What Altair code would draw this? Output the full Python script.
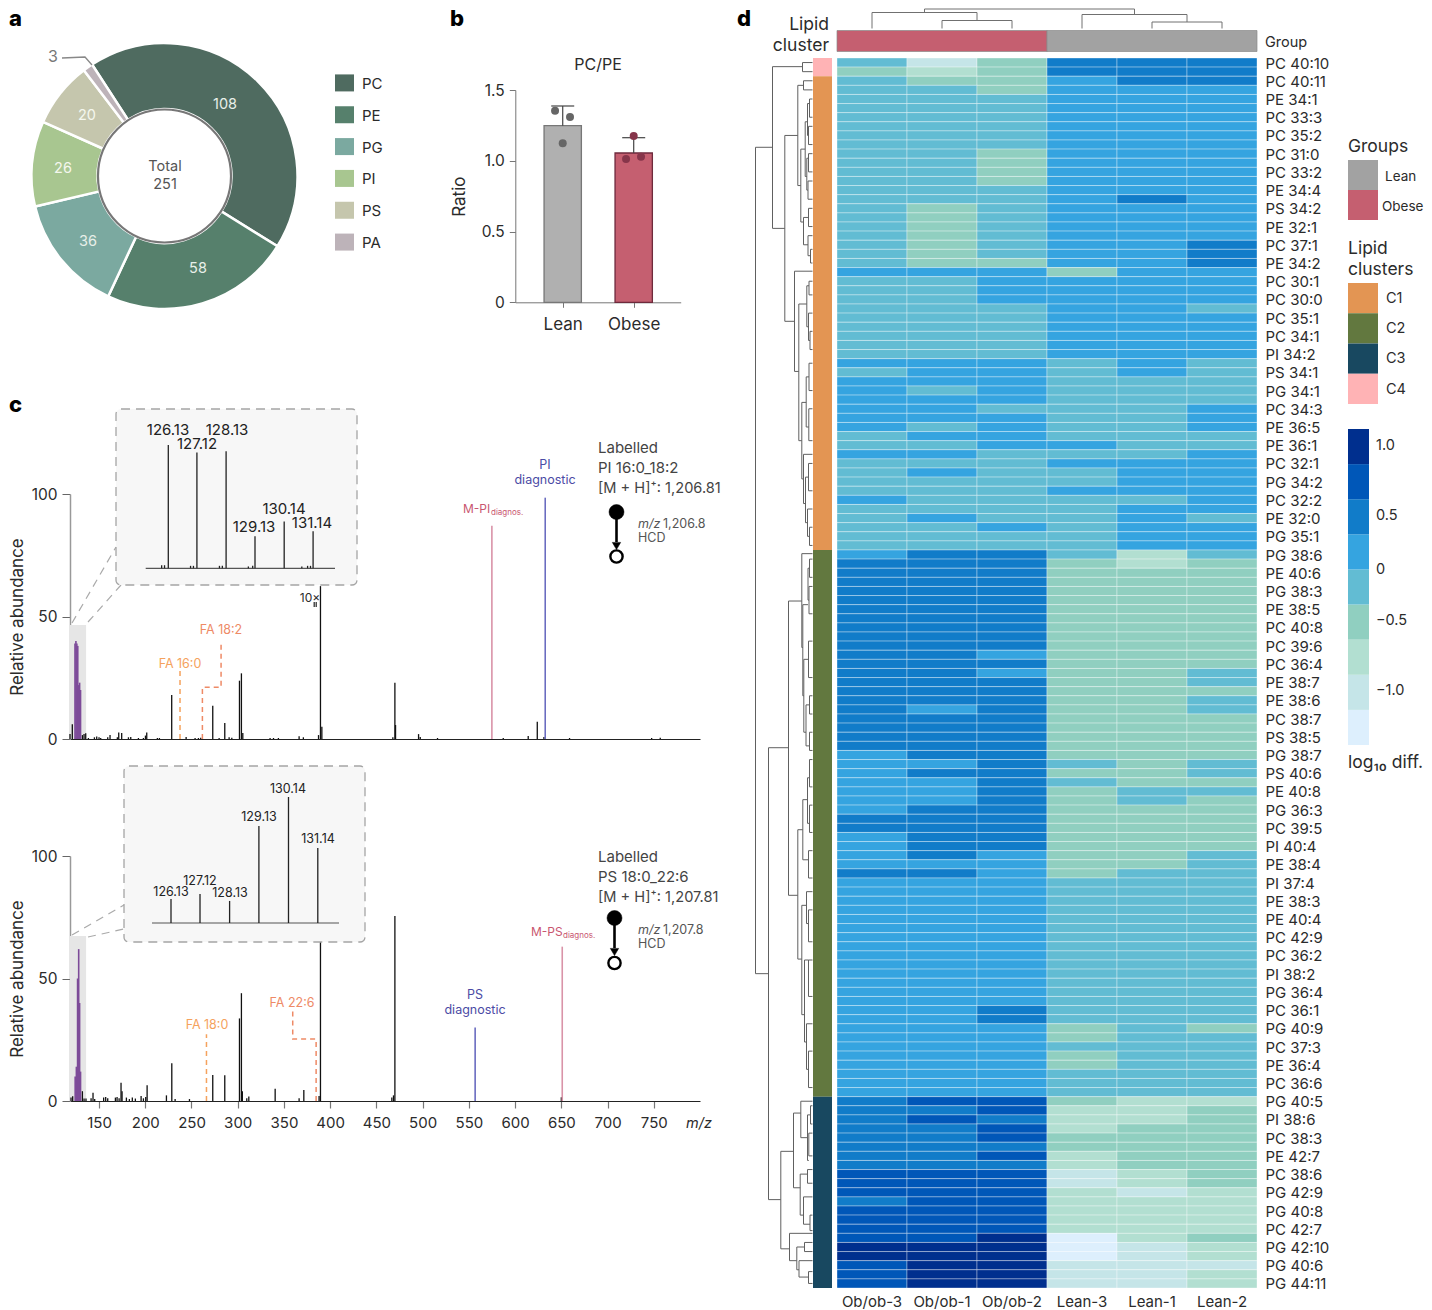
import altair as alt
import pandas as pd

FONT = "Inter"
W, H = 1416, 1302
OX, OY = 8, 8  # page margin

# ---------- panel a ----------
lipid_types = ["PC", "PE", "PG", "PI", "PS", "PA"]
lipid_counts = [108, 58, 36, 26, 20, 3]
lipid_colors = ["#4f6b60", "#56806c", "#7ba9a0", "#a8c690", "#c5c6ad", "#bdb3b9"]

# ---------- panel b ----------
bar_groups = ["Lean", "Obese"]
bar_values = [1.248, 1.055]
bar_err_top = [1.387, 1.163]
bar_fill = ["#b0b0b0", "#c55f70"]
bar_line = ["#777777", "#6e2a3c"]
pts_group_pos = [-0.108, 0.103, 0.0, 0.0, 0.103, -0.108]
pts_group = [0, 0, 0, 1, 1, 1]
pts_value = [1.354, 1.309, 1.123, 1.175, 1.029, 1.012]
pts_color = ["#666666", "#666666", "#666666", "#86354a", "#86354a", "#86354a"]

# ---------- panel c spectra ----------
c1_mz = [118.6, 121.1, 132, 133.8, 135.6, 138.5, 145, 147.5, 150, 151.8, 159.4, 161.9, 169.8, 171.3, 174.5, 181.8, 184.3,
         192.6, 198, 200.2, 201.6, 213.1, 215.3, 228.6, 244.2, 253.9, 257.5, 260, 273, 279.9, 286, 290.7, 293.6, 301.9,
         304, 305.5, 335, 338.7, 344, 366.4, 371, 387.4, 389.5, 391, 467.8, 470, 470.7, 495.6, 497.4, 516.1, 587.2,
         614.2, 624, 631.2, 658.9, 747.7, 757]
c1_int = [2, 6, 1.6, 2, 2.3, 0.4, 0.7, 1, 0.7, 0.4, 0.7, 1.6, 0.7, 2.7, 2.4, 0.7, 0.8,
          0.4, 0.4, 1.4, 2.7, 0.4, 0.4, 18, 0.8, 0.4, 0.4, 0.5, 13.6, 0.4, 6.5, 0.7, 0.5, 23.8,
          26.8, 2.5, 0.4, 0.4, 0.4, 1.1, 0.7, 1.6, 62.4, 5, 0.7, 23, 5.7, 2, 0.8, 0.4, 0.4,
          1.2, 7, 0.8, 0.4, 0.4, 0.5]
c1_purple_mz = [124, 125, 126, 127, 128, 129, 130]
c1_purple_int = [39, 40, 39, 38, 22, 23, 20]
c2_mz = [119.7, 121.5, 132, 133.8, 135.9, 141.4, 143.5, 145.3, 155, 157.2, 159.4, 167.7, 169.5, 171.7, 173.8, 174.9,
         179.6, 182.8, 186, 189.3, 195.5, 198, 200.5, 202, 222.9, 228.7, 232.3, 247.8, 273, 286, 301.9, 304, 305,
         309.8, 312, 340.5, 366.4, 371.5, 388, 389.5, 466.7, 468.5, 470, 650]
c2_int = [1.4, 1.9, 4, 1, 1, 1.1, 3.4, 0.8, 1.4, 1.6, 1.1, 1.4, 1.6, 1.1, 7.5, 4,
          1.4, 0.8, 1.4, 1, 2, 1.1, 1.6, 6.4, 2.3, 15.4, 0.8, 0.8, 10.6, 10.5, 33.7, 44, 4,
          1.1, 1.8, 5, 1.1, 4.5, 2, 66, 1.4, 2.3, 75.5, 1.5]
c2_purple_mz = [124.2, 125.5, 126.8, 128, 129, 130]
c2_purple_int = [10, 14, 50, 62, 40, 12]
c1_diag = [(574.9, 87, "#d993a8"), (632.6, 98.5, "#6a6cc0")]
c2_diag = [(556.8, 30, "#6a6cc0"), (651, 63, "#d993a8")]
c1_fa_16_x = [237.6, 237.6]
c1_fa_16_y = [0, 28]
c1_fa_18_x = [261.8, 261.8, 282, 282]
c1_fa_18_y = [0, 21.1, 21.1, 39.3]
c2_fa_18_x = [266.2, 266.2]
c2_fa_18_y = [0, 27.2]
c2_fa_22_x = [384.8, 384.8, 359.5, 359.5]
c2_fa_22_y = [0, 25.3, 25.3, 37.4]
inset1_mz = [126.13, 127.12, 128.13, 129.13, 130.14, 131.14]
inset1_int = [100, 94, 95, 26, 38, 30]
inset1_small_mz = [125.9, 126.0, 126.9, 127.0, 127.9, 128.0, 128.9, 129.05, 130.75, 130.95, 131.05]
inset1_small_int = [2.5, 2.5, 2, 2, 2, 2, 1.5, 2, 1.5, 2, 2]
inset2_mz = [126.13, 127.12, 128.13, 129.13, 130.14, 131.14]
inset2_int = [19, 23, 17.5, 77, 100, 59.5]

# ---------- panel d heat map ----------
samples = ["Ob/ob-3", "Ob/ob-1", "Ob/ob-2", "Lean-3", "Lean-1", "Lean-2"]
row_labels = ["PC 40:10", "PC 40:11", "PE 34:1", "PC 33:3", "PC 35:2", "PC 31:0", "PC 33:2", "PE 34:4", "PS 34:2", "PE 32:1",
              "PC 37:1", "PE 34:2", "PC 30:1", "PC 30:0", "PC 35:1", "PC 34:1", "PI 34:2", "PS 34:1", "PG 34:1", "PC 34:3",
              "PE 36:5", "PE 36:1", "PC 32:1", "PG 34:2", "PC 32:2", "PE 32:0", "PG 35:1", "PG 38:6", "PE 40:6", "PG 38:3",
              "PE 38:5", "PC 40:8", "PC 39:6", "PC 36:4", "PE 38:7", "PE 38:6", "PC 38:7", "PS 38:5", "PG 38:7", "PS 40:6",
              "PE 40:8", "PG 36:3", "PC 39:5", "PI 40:4", "PE 38:4", "PI 37:4", "PE 38:3", "PE 40:4", "PC 42:9", "PC 36:2",
              "PI 38:2", "PG 36:4", "PC 36:1", "PG 40:9", "PC 37:3", "PE 36:4", "PC 36:6", "PG 40:5", "PI 38:6", "PC 38:3",
              "PE 42:7", "PC 38:6", "PG 42:9", "PG 40:8", "PC 42:7", "PG 42:10", "PG 40:6", "PG 44:11"]
# one string per heat-map row, one digit per sample: colour class 1 (palest) .. 9 (darkest)
heat_rows = """524777 434777 544677 554666 555666 555666 555666 555666 555666 555666
554666 554666 554666 554666 555666 555676 545666 545666 545666 545666
545667 545667 544667 666466 556666 556666 556666 555665 555666 555666
555666 555666 555666 666565 566565 666555 656555 666555 665556 666556
656556 566555 556655 665556 555666 565566 555566 555666 655556 555566
565565 556566 555566 555566 677535 777434 777444 777444 777444 777444
777444 777444 777444 777444 777444 776444 777444 776445 777445 777444
777445 767445 777444 777444 777444 777444 677444 667545 677445 667544
667455 667454 677444 777444 777444 677444 677444 676445 666445 776455
666555 666555 666555 666555 666555 666555 666555 666555 666555 666555
666555 666555 666555 666555 667555 667555 666454 666455 666555 666455
666455 666555 666555 666555 788433 778334 787334 778344 778444 777444
778344 777344 888234 888234 888323 788333 888333 888333 888333 889134
999123 999123 899222 899223 899223""".split()
heat_palette = ["#ddeffd", "#c5e5e8", "#b2dfd1", "#90cfc0", "#62bcd3", "#35a4e0", "#117cc9", "#0057b8", "#002f8e"]
cluster_names = ["C4", "C1", "C2", "C3"]
cluster_start = [0, 2, 54, 114]
cluster_end = [2, 54, 114, 135]
cluster_colors = ["#ffb3b5", "#e39553", "#62783f", "#184860"]
# dendrogram brackets: parent distance, top row, top child distance, bottom row, bottom child distance
row_tree = [
    (57, 9.8, 40, 100.5, 44), (40, .95, 10, 18.7, 27.7), (10, .5, 0, 1.5, 0), (27.7, 8.5, 14.7, 28.9, 18),
    (14.7, 3, 9, 14, 11.7), (9, 2.5, 0, 3.5, 0), (11.7, 10, 7.3, 18, 9), (7.3, 7, 5, 13, 5.7), (5, 5, 3, 8.5, 4),
    (3, 4.5, 0, 6.5, 0), (4, 7.5, 0, 9.5, 0), (5.7, 11, 4, 14.5, 4.5), (4, 10.5, 0, 12.5, 0), (4.5, 13.5, 0, 15.5, 0),
    (9, 17.5, 4, 20.5, 4.5), (4, 16.5, 0, 18.5, 0), (4.5, 19.5, 0, 21.7, 2), (2, 21, 0, 22.5, 0),
    (18, 23.4, 0, 34.4, 13.7), (13.7, 27, 5.7, 42, 10.7), (5.7, 25, 3.5, 29.5, 4), (3.5, 24.5, 0, 26, 0),
    (4, 28, 0, 31, 2.5), (2.5, 30, 0, 32, 0), (10.7, 37.8, 6.3, 46.2, 9), (6.3, 35, 3.5, 40.5, 3.7),
    (3.5, 33.5, 0, 36.5, 0), (3.7, 38.5, 0, 42, 0), (9, 43.5, 0, 48.9, 7), (7, 46, 4, 51, 5), (4, 44.5, 0, 47.5, 0),
    (5, 49.5, 0, 52.5, 3), (3, 51.5, 0, 53.5, 0),
    (44, 75.7, 24, 125.3, 31.7), (24, 59.6, 10.7, 91.9, 14.7), (10.7, 54.4, 0, 64.7, 9.7), (9.7, 60, 4.5, 70, 8.7),
    (4.5, 56, 3, 59.5, 3.5), (3, 55, 0, 57, 0), (3.5, 58, 0, 61, 0), (8.7, 66, 4, 74, 6.5), (4, 64, 0, 68, 0),
    (6.5, 71, 3, 75.5, 3), (3, 70, 0, 72, 0), (3, 74, 0, 76, 0), (14.7, 84.7, 9.7, 98.9, 10.7), (9.7, 81.4, 5, 88, 4),
    (5, 79, 3, 84, 3), (3, 77, 0, 80, 0), (3, 82, 0, 85, 0), (4, 87, 0, 90, 0), (10.7, 93, 6, 105, 8),
    (6, 91.5, 0, 95, 4), (4, 93.5, 0, 97, 0), (8, 99, 4, 108, 6), (4, 99, 0, 103, 0), (6, 106, 0, 111, 4), (4, 109, 0, 113, 0),
    (31.7, 120, 19, 130.7, 23), (19, 115.8, 11.7, 124, 12.3), (11.7, 114.5, 0, 118.5, 5), (5, 116, 2, 121, 3.7),
    (2, 115, 0, 117, 0), (3.7, 118, 0, 120.5, 0), (12.3, 122.5, 5, 127, 9), (5, 122, 0, 123.5, 0), (9, 125, 0, 128, 2.5),
    (2.5, 127, 0, 128.7, 0), (23, 129, 0, 132, 15.7), (15.7, 130.5, 8, 133, 13.5), (8, 130, 0, 131, 0),
    (13.5, 132, 0, 133.8, 4), (4, 133.2, 0, 134.5, 0),
]
# sample tree: parent height, left col, left child height, right col, right child height
col_tree = [(19.5, 1.25, 16, 4.25, 14), (16, 0.5, 0, 2, 8), (8, 1.5, 0, 2.5, 0), (14, 3.5, 0, 5, 6.5), (6.5, 4.5, 0, 5.5, 0)]

# ---------- text ----------
TXT = "#2b2b2b"
ORANGE, SALMON, PINK, BLUE = "#f5a25d", "#ee8a66", "#c9566f", "#4b4ba5"
left_text = [
    ("PC", 362, 83, 15, TXT), ("PE", 362, 115, 15, TXT), ("PG", 362, 147, 15, TXT), ("PI", 362, 178, 15, TXT),
    ("PS", 362, 210, 15, TXT), ("PA", 362, 242, 15, TXT),
    ("Labelled", 598, 447, 15, "#444444"), ("PI 16:0_18:2", 598, 467, 15, "#444444"), ("[M + H]⁺: 1,206.81", 598, 488, 14.6, "#444444"),
    ("1,206.8", 663, 523, 12.5, "#555555"), ("HCD", 638, 537, 12.5, "#555555"),
    ("Labelled", 598, 856, 15, "#444444"), ("PS 18:0_22:6", 598, 876, 15, "#444444"), ("[M + H]⁺: 1,207.81", 598, 897, 14.6, "#444444"),
    ("1,207.8", 663, 929, 12.5, "#555555"), ("HCD", 638, 943, 12.5, "#555555"),
    ("M-PI", 463, 508, 12, PINK), ("diagnos.", 491, 512, 8, PINK), ("M-PS", 531, 931, 12, PINK), ("diagnos.", 563, 935, 8, PINK),
    ("Group", 1265, 42, 14.5, TXT), ("Groups", 1348, 146, 17.5, TXT), ("Lean", 1385, 176, 13.5, TXT), ("Obese", 1382, 206, 13.5, TXT),
    ("Lipid", 1348, 248, 17.5, TXT), ("clusters", 1348, 269, 17.5, TXT),
    ("C1", 1386, 298, 14.5, TXT), ("C2", 1386, 328, 14.5, TXT), ("C3", 1386, 358, 14.5, TXT), ("C4", 1386, 389, 14.5, TXT),
    ("1.0", 1376, 445, 14.5, TXT), ("0.5", 1376, 515, 14.5, TXT), ("0", 1376, 569, 14.5, TXT), ("−0.5", 1376, 620, 14.5, TXT), ("−1.0", 1376, 690, 14.5, TXT),
    ("log₁₀ diff.", 1348, 762, 17.5, TXT),
]
center_text = [
    ("108", 225, 104, 14.5, "#e8efe9"), ("58", 198, 268, 14.5, "#e8efe9"), ("36", 88, 241, 14.5, "#e8efe9"), ("26", 63, 168, 14.5, "#f4f7ee"),
    ("20", 87, 115, 14.5, "#f4f7ee"), ("3", 53, 56, 16, "#777777"), ("Total", 165, 166, 14.5, "#555555"), ("251", 165, 184, 14.5, "#555555"),
    ("PC/PE", 598, 64, 16, TXT),
    ("FA 18:2", 221, 629, 12.5, SALMON), ("FA 16:0", 180, 663, 12.5, ORANGE), ("PI", 545, 464, 12.5, BLUE), ("diagnostic", 545, 479, 12.5, BLUE),
    ("FA 18:0", 207, 1024, 12.5, ORANGE), ("FA 22:6", 292, 1002, 12.5, SALMON), ("PS", 475, 994, 12.5, BLUE), ("diagnostic", 475, 1009, 12.5, BLUE),
    ("10×", 310, 597, 12, TXT),
    ("126.13", 168, 429, 15, "#222222"), ("127.12", 197, 443, 15, "#222222"), ("128.13", 227, 429, 15, "#222222"),
    ("129.13", 254, 526, 15, "#222222"), ("130.14", 284, 508, 15, "#222222"), ("131.14", 312, 522, 15, "#222222"),
    ("126.13", 171, 891, 12.5, "#222222"), ("127.12", 200, 880, 12.5, "#222222"), ("128.13", 230, 892, 12.5, "#222222"),
    ("129.13", 259, 816, 12.5, "#222222"), ("130.14", 288, 788, 12.5, "#222222"), ("131.14", 318, 838, 12.5, "#222222"),
]
right_text = [("Lipid", 829, 24, 17.5, TXT), ("cluster", 829, 45, 17.5, TXT)]
italic_text = [("m/z", 638, 523, 12.5, "#555555"), ("m/z", 638, 929, 12.5, "#555555"), ("m/z", 686, 1123, 14.5, TXT)]
bold_text = [("a", 9, 19, 22), ("b", 450, 19, 22), ("c", 9, 405, 22), ("d", 737, 19, 22)]


def px(v):
    return v - OX


def py(v):
    return v - OY


layers = []


def text_layer(rows, align, dy=1, **kw):
    df = pd.DataFrame([{"t": r[0], "x": px(r[1]), "y": py(r[2]) + dy, "s": r[3], "c": r[4]} for r in rows])
    return alt.Chart(df).mark_text(font=FONT, align=align, baseline="middle", **kw).encode(
        x=alt.X("x:Q", scale=None, axis=None), y=alt.Y("y:Q", scale=None, axis=None),
        text="t:N", size=alt.Size("s:Q", scale=None, legend=None), color=alt.Color("c:N", scale=None, legend=None))


def px_line(xs, ys, color, width=1.2, dash=None):
    df = pd.DataFrame({"x": [px(v) for v in xs], "y": [py(v) for v in ys], "o": list(range(len(xs)))})
    kw = {"strokeDash": dash} if dash else {}
    return alt.Chart(df).mark_line(color=color, strokeWidth=width, **kw).encode(
        x=alt.X("x:Q", scale=None, axis=None), y=alt.Y("y:Q", scale=None, axis=None), order="o:Q")


def px_point(x, y, size, fill, stroke, width, shape="circle"):
    df = pd.DataFrame({"x": [px(x)], "y": [py(y)]})
    return alt.Chart(df).mark_point(shape=shape, filled=True, fill=fill, stroke=stroke, strokeWidth=width, size=size, opacity=1).encode(
        x=alt.X("x:Q", scale=None, axis=None), y=alt.Y("y:Q", scale=None, axis=None))


# ======== panel a ========
donut = pd.DataFrame({"type": lipid_types, "n": lipid_counts, "i": range(6)})
start = 5.707
layers.append(alt.Chart(donut).mark_arc(innerRadius=67, outerRadius=133, stroke="white", strokeWidth=2.5).encode(
    theta=alt.Theta("n:Q", stack=True, scale=alt.Scale(domain=[0, 251], range=[start, start + 6.28319])),
    color=alt.Color("type:N", scale=alt.Scale(domain=lipid_types, range=lipid_colors), legend=None),
    order=alt.Order("i:Q"), x=alt.value(px(164.5)), y=alt.value(py(176))))
layers.append(px_point(164.5, 176, 17700, "white", "#777777", 2.2))
layers.append(px_line([62, 85, 92], [58, 57, 65], "#888888", 1.3))
leg_a = pd.DataFrame({"type": lipid_types})
layers.append(alt.Chart(leg_a).mark_rect(height=17).encode(
    x=alt.value(px(335)), x2=alt.value(px(354)),
    y=alt.Y("type:N", sort=lipid_types, axis=None, scale=alt.Scale(domain=lipid_types, range=[py(67), py(258)], paddingInner=0, paddingOuter=0)),
    color=alt.Color("type:N", scale=alt.Scale(domain=lipid_types, range=lipid_colors), legend=None)))

# ======== panel b ========
bx = alt.Scale(domain=[-0.668, 1.662], range=[px(515.3), px(680.7)])
by = alt.Scale(domain=[0, 1.5], range=[py(302.3), py(90)])
bdf = pd.DataFrame({"p": [0, 1], "a": [-0.263, 0.737], "b": [0.263, 1.263], "v": bar_values, "z": [0, 0], "t": bar_err_top,
                    "f": bar_fill, "l": bar_line, "c1": [-0.162, 0.838], "c2": [0.162, 1.162]})
b_xaxis = alt.Axis(orient="bottom", offset=py(302.3) - H, values=[0, 1], labelExpr="datum.value == 0 ? 'Lean' : 'Obese'", title=None,
                   domainColor="#777777", tickColor="#777777", tickSize=5, labelFontSize=17, labelPadding=9, labelColor=TXT, grid=False)
b_yaxis = alt.Axis(orient="left", offset=-px(515.3), values=[0, 0.5, 1, 1.5], labelExpr="datum.value == 0 ? '0' : format(datum.value, '.1f')",
                   title="Ratio", titleFontSize=17, titleFontWeight="normal", titleColor=TXT, titlePadding=13,
                   domainColor="#777777", tickColor="#777777", tickSize=6, labelFontSize=15.5, labelPadding=5, labelColor=TXT, grid=False)
layers.append(alt.Chart(bdf).mark_bar(strokeWidth=1.3).encode(
    x=alt.X("a:Q", scale=bx, axis=b_xaxis), x2="b:Q", y=alt.Y("v:Q", scale=by, axis=b_yaxis), y2="z:Q",
    fill=alt.Fill("f:N", scale=None, legend=None), stroke=alt.Stroke("l:N", scale=None, legend=None)))
layers.append(alt.Chart(bdf).mark_rule(color="#444444", strokeWidth=1.2).encode(
    x=alt.X("p:Q", scale=bx, axis=None), y=alt.Y("v:Q", scale=by, axis=None), y2="t:Q"))
layers.append(alt.Chart(bdf).mark_rule(color="#444444", strokeWidth=1.2).encode(
    x=alt.X("c1:Q", scale=bx, axis=None), x2="c2:Q", y=alt.Y("t:Q", scale=by, axis=None)))
ptdf = pd.DataFrame({"p": [g + o for g, o in zip(pts_group, pts_group_pos)], "v": pts_value, "c": pts_color})
layers.append(alt.Chart(ptdf).mark_circle(size=64, opacity=1).encode(
    x=alt.X("p:Q", scale=bx, axis=None), y=alt.Y("v:Q", scale=by, axis=None), color=alt.Color("c:N", scale=None, legend=None)))


# ======== panel c ========
def spectrum(mz, inten, purple_mz, purple_int, diag, base_px, shade_top, fa_lines, show_x):
    sx = alt.Scale(domain=[118.6, 800], range=[px(70), px(700)])
    sy = alt.Scale(domain=[0, 100], range=[py(base_px), py(base_px - 245)])
    out = []
    shade = pd.DataFrame({"a": [118.6], "b": [136], "y0": [0], "y1": [shade_top]})
    if show_x:
        xax = alt.Axis(orient="bottom", offset=py(base_px) - H, values=list(range(150, 751, 50)), title=None, domainColor="#222222",
                       tickColor="#777777", tickSize=7, tickWidth=1.2, labelFontSize=15, labelPadding=7, labelColor=TXT, grid=False)
    else:
        xax = alt.Axis(orient="bottom", offset=py(base_px) - H, values=[], title=None, domainColor="#222222", ticks=False, labels=False, grid=False)
    yax = alt.Axis(orient="left", offset=-px(70), values=[0, 50, 100], title="Relative abundance", titleFontSize=17, titleFontWeight="normal",
                   titleColor=TXT, titlePadding=5, domainColor="#999999", domainWidth=1.5, tickColor="#666666", tickSize=8,
                   labelFontSize=15.5, labelPadding=5, labelColor=TXT, grid=False)
    out.append(alt.Chart(shade).mark_rect(color="#e6e6e6").encode(
        x=alt.X("a:Q", scale=sx, axis=xax), x2="b:Q", y=alt.Y("y1:Q", scale=sy, axis=yax), y2="y0:Q"))
    df = pd.DataFrame({"m": mz, "i": inten, "z": 0})
    out.append(alt.Chart(df).mark_rule(color="#111111", strokeWidth=1.3).encode(
        x=alt.X("m:Q", scale=sx, axis=None), y=alt.Y("i:Q", scale=sy, axis=None), y2="z:Q"))
    dfp = pd.DataFrame({"m": purple_mz, "i": purple_int, "z": 0})
    out.append(alt.Chart(dfp).mark_rule(color="#7d4b99", strokeWidth=1.6).encode(
        x=alt.X("m:Q", scale=sx, axis=None), y=alt.Y("i:Q", scale=sy, axis=None), y2="z:Q"))
    dfd = pd.DataFrame({"m": [d[0] for d in diag], "i": [d[1] for d in diag], "c": [d[2] for d in diag], "z": 0})
    out.append(alt.Chart(dfd).mark_rule(strokeWidth=1.6).encode(
        x=alt.X("m:Q", scale=sx, axis=None), y=alt.Y("i:Q", scale=sy, axis=None), y2="z:Q",
        color=alt.Color("c:N", scale=None, legend=None)))
    for xs, ys, c in fa_lines:
        dff = pd.DataFrame({"m": xs, "i": ys, "o": range(len(xs))})
        out.append(alt.Chart(dff).mark_line(color=c, strokeWidth=1.5, strokeDash=[5, 4]).encode(
            x=alt.X("m:Q", scale=sx, axis=None), y=alt.Y("i:Q", scale=sy, axis=None), order="o:Q"))
    return out


layers += spectrum(c1_mz, c1_int, c1_purple_mz, c1_purple_int, c1_diag, 739, 46.5,
                   [(c1_fa_16_x, c1_fa_16_y, ORANGE), (c1_fa_18_x, c1_fa_18_y, SALMON)], False)
layers += spectrum(c2_mz, c2_int, c2_purple_mz, c2_purple_int, c2_diag, 1101, 67.3,
                   [(c2_fa_18_x, c2_fa_18_y, ORANGE), (c2_fa_22_x, c2_fa_22_y, SALMON)], True)
layers.append(px_line([72, 116], [623, 547], "#aaaaaa", 1.2, [8, 6]))
layers.append(px_line([88, 121], [622, 585], "#aaaaaa", 1.2, [8, 6]))
layers.append(px_line([72, 124], [935, 905], "#aaaaaa", 1.2, [8, 6]))
layers.append(px_line([88, 124], [937, 929], "#aaaaaa", 1.2, [8, 6]))
layers.append(px_line([314.2, 314.2], [602, 607], "#222222", 1.2))
layers.append(px_line([316.2, 316.2], [602, 607], "#222222", 1.2))


def inset(x0, x1, y0, y1, mz, inten, base, top, mz0, pxmz0, step, ax0, ax1, small=None):
    rect = pd.DataFrame({"a": [px(x0)], "b": [px(x1)], "c": [py(y0)], "d": [py(y1)]})
    out = [alt.Chart(rect).mark_rect(fill="#f7f7f7", stroke="#a5a5a5", strokeWidth=1.3, strokeDash=[9, 6], cornerRadius=5).encode(
        x=alt.X("a:Q", scale=None, axis=None), x2="b:Q", y=alt.Y("c:Q", scale=None, axis=None), y2="d:Q")]
    m_lo = mz0 + (ax0 - pxmz0) / step
    m_hi = mz0 + (ax1 - pxmz0) / step
    sx = alt.Scale(domain=[m_lo, m_hi], range=[px(ax0), px(ax1)])
    sy = alt.Scale(domain=[0, 100], range=[py(base), py(top)])
    axis_df = pd.DataFrame({"a": [m_lo], "b": [m_hi], "z": [0]})
    out.append(alt.Chart(axis_df).mark_rule(color="#555555", strokeWidth=1.2).encode(
        x=alt.X("a:Q", scale=sx, axis=None), x2="b:Q", y=alt.Y("z:Q", scale=sy, axis=None)))
    df = pd.DataFrame({"m": mz, "i": inten, "z": 0})
    out.append(alt.Chart(df).mark_rule(color="#222222", strokeWidth=1.3).encode(
        x=alt.X("m:Q", scale=sx, axis=None), y=alt.Y("i:Q", scale=sy, axis=None), y2="z:Q"))
    if small:
        dfs = pd.DataFrame({"m": small[0], "i": small[1], "z": 0})
        out.append(alt.Chart(dfs).mark_rule(color="#222222", strokeWidth=1.3).encode(
            x=alt.X("m:Q", scale=sx, axis=None), y=alt.Y("i:Q", scale=sy, axis=None), y2="z:Q"))
    return out


layers += inset(116, 357, 409, 585, inset1_mz, inset1_int, 568.3, 445, 126.13, 168.3, 28.9, 145.7, 335, (inset1_small_mz, inset1_small_int))
layers += inset(124, 365, 766, 942, inset2_mz, inset2_int, 923, 797, 126.13, 171, 29.3, 152, 339)

# HCD diagrams
for cx, top, tip, bot in [(616.5, 512, 546, 556.5), (614.5, 918, 952, 963)]:
    layers.append(px_line([cx, cx], [top, tip - 4], "#000000", 2.6))
    layers.append(px_point(cx, tip, 70, "#000000", "#000000", 0.5, "triangle-down"))
    layers.append(px_point(cx, top, 225, "#000000", "#000000", 0.5))
    layers.append(px_point(cx, bot, 150, "white", "#000000", 2.4))

# ======== panel d ========
row_ids = []
for r in range(135):
    if r % 2 == 0:
        row_ids.append(row_labels[r // 2])
    else:
        row_ids.append(row_labels[r // 2] + " /")
assert len(row_labels) == 68 and len(heat_rows) == 135
cells = []
for r, code in enumerate(heat_rows):
    for c, s in enumerate(samples):
        cells.append({"row": row_ids[r], "sample": s, "level": int(code[c])})
hdf = pd.DataFrame(cells)
levels = list(range(1, 10))
heat_x_ax = alt.Axis(orient="bottom", offset=py(1288) - H, title=None, domain=False, ticks=False, labelAngle=0, labelFontSize=15,
                     labelPadding=6, labelColor=TXT, grid=False)
heat_y_ax = alt.Axis(orient="right", offset=px(1257) - W, values=row_ids[::2], title=None, domain=False, ticks=False, labelFontSize=15,
                     labelPadding=8, labelOffset=1, labelColor=TXT, labelOverlap=False, grid=False, labelBound=False, labelAlign="left")
layers.append(alt.Chart(hdf).mark_rect(stroke="white", strokeWidth=0.5, strokeOpacity=0.7).encode(
    x=alt.X("sample:N", sort=samples, axis=heat_x_ax,
            scale=alt.Scale(domain=samples, range=[px(837), px(1257)], paddingInner=0, paddingOuter=0)),
    y=alt.Y("row:N", sort=row_ids, axis=heat_y_ax,
            scale=alt.Scale(domain=row_ids, range=[py(58), py(1288)], paddingInner=0, paddingOuter=0)),
    color=alt.Color("level:O", scale=alt.Scale(domain=levels, range=heat_palette), legend=None)))

# group bar
grp = pd.DataFrame({"a": [0, 3], "b": [3, 6], "c": ["#c55f70", "#a2a2a2"]})
col_scale = alt.Scale(domain=[0, 6], range=[px(837), px(1257)])
layers.append(alt.Chart(grp).mark_rect(stroke="#8a8a8a", strokeWidth=0.7).encode(
    x=alt.X("a:Q", scale=col_scale, axis=None), x2="b:Q", y=alt.value(py(30.5)), y2=alt.value(py(51.5)),
    color=alt.Color("c:N", scale=None, legend=None)))
# cluster bar
row_scale = alt.Scale(domain=[0, 135], range=[py(58), py(1288)])
cl = pd.DataFrame({"a": cluster_start, "b": cluster_end, "c": cluster_colors})
layers.append(alt.Chart(cl).mark_rect().encode(
    x=alt.value(px(813)), x2=alt.value(px(832)), y=alt.Y("a:Q", scale=row_scale, axis=None), y2="b:Q",
    color=alt.Color("c:N", scale=None, legend=None)))
# dendrograms
seg = []
for d, r1, d1, r2, d2 in row_tree:
    seg += [(d, d, r1, r2), (d, d1, r1, r1), (d, d2, r2, r2)]
segdf = pd.DataFrame(seg, columns=["a", "b", "r", "s"])
dist_scale = alt.Scale(domain=[0, 60], range=[px(812.5), px(752.5)])
layers.append(alt.Chart(segdf).mark_rule(color="#606060", strokeWidth=1).encode(
    x=alt.X("a:Q", scale=dist_scale, axis=None), x2="b:Q", y=alt.Y("r:Q", scale=row_scale, axis=None), y2="s:Q"))
seg2 = []
for h, c1, h1, c2, h2 in col_tree:
    seg2 += [(c1, c2, h, h), (c1, c1, h, h1), (c2, c2, h, h2)]
seg2df = pd.DataFrame(seg2, columns=["a", "b", "r", "s"])
hgt_scale = alt.Scale(domain=[0, 25], range=[py(28.5), py(3.5)])
layers.append(alt.Chart(seg2df).mark_rule(color="#707070", strokeWidth=1).encode(
    x=alt.X("a:Q", scale=col_scale, axis=None), x2="b:Q", y=alt.Y("r:Q", scale=hgt_scale, axis=None), y2="s:Q"))

# legends on the right
gl = pd.DataFrame({"g": ["Lean", "Obese"]})
layers.append(alt.Chart(gl).mark_rect().encode(
    x=alt.value(px(1348)), x2=alt.value(px(1378)),
    y=alt.Y("g:N", axis=None, scale=alt.Scale(domain=["Lean", "Obese"], range=[py(160), py(220)], paddingInner=0, paddingOuter=0)),
    color=alt.Color("g:N", scale=alt.Scale(domain=["Lean", "Obese"], range=["#a2a2a2", "#c55f70"]), legend=None)))
cl_order = ["C1", "C2", "C3", "C4"]
cl_col = ["#e39553", "#62783f", "#184860", "#ffb3b5"]
layers.append(alt.Chart(pd.DataFrame({"g": cl_order})).mark_rect().encode(
    x=alt.value(px(1348)), x2=alt.value(px(1378)),
    y=alt.Y("g:N", axis=None, scale=alt.Scale(domain=cl_order, range=[py(283), py(404)], paddingInner=0, paddingOuter=0)),
    color=alt.Color("g:N", scale=alt.Scale(domain=cl_order, range=cl_col), legend=None)))
bar_levels = levels[::-1]
layers.append(alt.Chart(pd.DataFrame({"level": levels})).mark_rect().encode(
    x=alt.value(px(1348)), x2=alt.value(px(1369)),
    y=alt.Y("level:O", axis=None, sort=bar_levels, scale=alt.Scale(domain=bar_levels, range=[py(429), py(745)], paddingInner=0, paddingOuter=0)),
    color=alt.Color("level:O", scale=alt.Scale(domain=levels, range=heat_palette), legend=None)))

# ======== text ========
layers.append(text_layer(left_text, "left"))
layers.append(text_layer(center_text, "center"))
layers.append(text_layer(right_text, "right"))
layers.append(text_layer(italic_text, "left", fontStyle="italic"))
layers.append(text_layer([(t, x, y, s, "#000000") for t, x, y, s in bold_text], "left", dy=0, fontWeight=800))

chart = alt.layer(*layers).resolve_scale(
    x="independent", y="independent", color="independent", size="independent", fill="independent", stroke="independent"
).properties(width=W, height=H, padding=0, background="white",
             autosize=alt.AutoSizeParams(type="none", contains="content")
).configure_view(strokeWidth=0).configure_axis(labelFont=FONT, titleFont=FONT, grid=False)

chart.save("out.html", embed_options={"renderer": "svg", "actions": False})
